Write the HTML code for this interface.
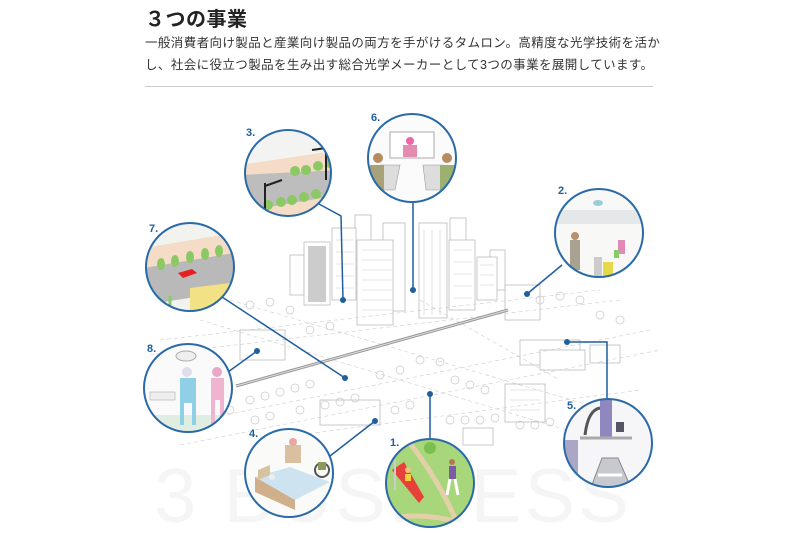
<!DOCTYPE html>
<html><head><meta charset="utf-8"><style>
html,body{margin:0;padding:0;background:#fff;width:800px;height:533px;overflow:hidden;font-family:"Liberation Sans","Noto Sans CJK JP",sans-serif;}
h1{position:absolute;left:145px;top:3px;margin:0;font-size:20px;font-weight:bold;color:#222;letter-spacing:0.5px;}
p{position:absolute;left:145px;top:32px;margin:0;width:560px;font-size:12.5px;line-height:22px;color:#333;letter-spacing:0.4px;white-space:nowrap;}
hr{position:absolute;left:145px;top:86px;width:508px;margin:0;border:0;border-top:1px solid #ccc;}
svg{position:absolute;left:0;top:0;}
</style></head><body>
<h1>３つの事業</h1>
<p>一般消費者向け製品と産業向け製品の両方を手がけるタムロン。高精度な光学技術を活か<br>し、社会に役立つ製品を生み出す総合光学メーカーとして3つの事業を展開しています。</p>
<hr>
<svg width="800" height="533" viewBox="0 0 800 533">
<text x="393" y="522" text-anchor="middle" font-family="Liberation Sans,sans-serif" font-size="76" fill="#f5f5f5" letter-spacing="3">3 BUSINESS</text>
<g stroke="#bbb" stroke-width="0.8" fill="#fff">
 <rect x="290" y="255" width="14" height="40"/><rect x="355" y="215" width="16" height="30"/><rect x="385" y="245" width="16" height="25"/><rect x="450" y="218" width="16" height="25"/><rect x="490" y="250" width="15" height="40"/>
 <rect x="304" y="242" width="26" height="63"/><rect x="308" y="246" width="18" height="56" fill="#ccc" stroke="none"/>
 <rect x="332" y="228" width="24" height="72"/>
 <rect x="383" y="223" width="22" height="88"/>
 <rect x="357" y="240" width="36" height="85"/>
 <rect x="419" y="223" width="28" height="95"/>
 <rect x="449" y="240" width="26" height="70"/>
 <rect x="477" y="257" width="20" height="43"/>
 <rect x="505" y="285" width="35" height="35"/>
 <rect x="240" y="330" width="45" height="30"/>
 <rect x="505" y="384" width="40" height="38"/>
 <rect x="463" y="428" width="30" height="17"/>
 <rect x="520" y="340" width="60" height="25"/>
 <rect x="320" y="400" width="60" height="25"/>
 <rect x="540" y="350" width="45" height="20"/>
 <rect x="590" y="345" width="30" height="18"/>
</g>
<g stroke="#ccc" stroke-width="0.6" fill="none">
 <path d="M362 250h30M362 260h30M362 270h30M362 280h30M362 290h30M362 300h30M362 310h30M424 230v85M432 230v85M440 230v85M454 250h18M454 262h18M454 274h18M454 286h18M454 298h18M336 240h18M336 252h18M336 264h18M336 276h18M336 288h18M480 265h14M480 275h14M480 285h14M510 390h30M510 400h30M510 410h30"/>
 <path d="M160 340L600 290M150 355L620 300M200 420L650 330M180 445L660 350M230 300L640 420M200 320L600 440M260 440L640 390M420 300L560 380" stroke-dasharray="4 3"/>
</g>
<path d="M236 386L508 310" stroke="#999" stroke-width="3" fill="none"/>
<path d="M236 386L508 310" stroke="#ddd" stroke-width="1" fill="none"/>
<g fill="none" stroke="#c8c8c8" stroke-width="0.7">
 <circle cx="250" cy="400" r="4"/><circle cx="265" cy="396" r="4"/><circle cx="280" cy="392" r="4"/><circle cx="295" cy="388" r="4"/><circle cx="310" cy="384" r="4"/><circle cx="255" cy="420" r="4"/><circle cx="270" cy="416" r="4"/><circle cx="300" cy="410" r="4"/><circle cx="450" cy="420" r="4"/><circle cx="465" cy="420" r="4"/><circle cx="480" cy="420" r="4"/><circle cx="495" cy="418" r="4"/><circle cx="420" cy="360" r="4"/><circle cx="440" cy="362" r="4"/><circle cx="400" cy="370" r="4"/><circle cx="380" cy="375" r="4"/><circle cx="250" cy="305" r="4"/><circle cx="270" cy="302" r="4"/><circle cx="290" cy="310" r="4"/><circle cx="540" cy="300" r="4"/><circle cx="560" cy="296" r="4"/><circle cx="580" cy="300" r="4"/>
 <circle cx="325" cy="405" r="4"/><circle cx="340" cy="402" r="4"/><circle cx="355" cy="398" r="4"/><circle cx="395" cy="410" r="4"/><circle cx="410" cy="405" r="4"/><circle cx="455" cy="380" r="4"/><circle cx="470" cy="385" r="4"/><circle cx="485" cy="390" r="4"/><circle cx="520" cy="425" r="4"/><circle cx="535" cy="425" r="4"/><circle cx="550" cy="422" r="4"/><circle cx="600" cy="315" r="4"/><circle cx="620" cy="320" r="4"/><circle cx="230" cy="410" r="4"/><circle cx="310" cy="330" r="4"/><circle cx="330" cy="326" r="4"/>
</g>
<g stroke="#1f5fa0" stroke-width="1.5" fill="none">
 <path d="M319 204L341 216L343 300"/>
 <path d="M413 203V290"/>
 <path d="M562 265L527 294"/>
 <path d="M222 297L345 378"/>
 <path d="M228 372L257 351"/>
 <path d="M330 456L375 421"/>
 <path d="M430 438V394"/>
 <path d="M567 342H607V398"/>
</g>
<g fill="#1f5fa0">
 <circle cx="343" cy="300" r="3"/><circle cx="413" cy="290" r="3"/><circle cx="527" cy="294" r="3"/><circle cx="345" cy="378" r="3"/><circle cx="257" cy="351" r="3"/><circle cx="375" cy="421" r="3"/><circle cx="430" cy="394" r="3"/><circle cx="567" cy="342" r="3"/>
</g>
<defs>
 <clipPath id="c3"><circle cx="288" cy="173" r="43"/></clipPath>
 <clipPath id="c6"><circle cx="412" cy="158" r="44"/></clipPath>
 <clipPath id="c2"><circle cx="599" cy="233" r="44"/></clipPath>
 <clipPath id="c7"><circle cx="190" cy="267" r="44"/></clipPath>
 <clipPath id="c8"><circle cx="188" cy="388" r="44"/></clipPath>
 <clipPath id="c4"><circle cx="289" cy="473" r="44"/></clipPath>
 <clipPath id="c1"><circle cx="430" cy="483" r="44"/></clipPath>
 <clipPath id="c5"><circle cx="608" cy="443" r="44"/></clipPath>
</defs>
<g clip-path="url(#c3)">
 <rect x="240" y="125" width="100" height="100" fill="#f3f3f1"/>
 <path d="M240 165L340 150V180L240 205Z" fill="#f5dcc6"/>
 <path d="M240 175L340 170V200L240 220Z" fill="#bdbdbd"/>
 <path d="M240 212L340 195V230H240Z" fill="#f5dcc6"/>
 <g fill="#8cc863"><circle cx="295" cy="171" r="5"/><circle cx="306" cy="170" r="5"/><circle cx="318" cy="166" r="5"/><circle cx="330" cy="163" r="5"/><circle cx="268" cy="205" r="5"/><circle cx="281" cy="202" r="5"/><circle cx="292" cy="200" r="5"/><circle cx="304" cy="197" r="5"/><circle cx="316" cy="194" r="5"/></g>
 <path d="M265 183V210M326 152V180M265 186L282 180M312 150L326 148" stroke="#222" stroke-width="2"/>
</g>
<g clip-path="url(#c6)">
 <rect x="368" y="114" width="90" height="90" fill="#fbfbfb"/>
 <rect x="390" y="132" width="44" height="26" fill="#fff" stroke="#aaa"/>
 <circle cx="410" cy="141" r="4" fill="#e6a"/><rect x="403" y="145" width="14" height="12" fill="#e48bb0"/>
 <path d="M380 165h20l-5 25h-25ZM423 165h20l8 25h-25Z" fill="#ddd" stroke="#999" stroke-width=".6"/>
 <circle cx="378" cy="158" r="5" fill="#b88a60"/><rect x="370" y="165" width="14" height="25" fill="#a8a27a"/>
 <circle cx="447" cy="158" r="5" fill="#b88a60"/><rect x="440" y="165" width="15" height="25" fill="#9eb070"/>
</g>
<g clip-path="url(#c2)">
 <rect x="555" y="189" width="90" height="90" fill="#f8f8f6"/>
 <rect x="555" y="210" width="90" height="14" fill="#e4e8e8"/>
 <ellipse cx="598" cy="203" rx="5" ry="3" fill="#9cd"/>
 <rect x="570" y="240" width="10" height="30" fill="#a9a292"/><circle cx="575" cy="236" r="4" fill="#b89070"/>
 <rect x="594" y="257" width="8" height="20" fill="#ccc"/>
 <rect x="603" y="262" width="10" height="16" fill="#e5d84a"/>
 <rect x="618" y="240" width="7" height="14" fill="#e389b8"/><rect x="614" y="250" width="5" height="8" fill="#8c6"/>
</g>
<g clip-path="url(#c7)">
 <rect x="144" y="220" width="95" height="95" fill="#f2f2ef"/>
 <path d="M144 248L240 232V262L144 280Z" fill="#f5dcc6"/>
 <path d="M144 268L240 252V290L144 305Z" fill="#b9b9b9"/>
 <g fill="#8cc863"><ellipse cx="161" cy="264" rx="4" ry="6"/><ellipse cx="175" cy="261" rx="4" ry="6"/><ellipse cx="190" cy="257" rx="4" ry="6"/><ellipse cx="205" cy="254" rx="4" ry="6"/><ellipse cx="219" cy="251" rx="4" ry="6"/></g>
 <path d="M178 273l14-4 5 4-14 5z" fill="#e52020"/>
 <path d="M190 288L230 283V315H190Z" fill="#f2e285"/>
 <path d="M150 300V312M160 298V312M170 296V312" stroke="#8c6" stroke-width="3"/>
</g>
<g clip-path="url(#c8)">
 <rect x="142" y="343" width="92" height="92" fill="#fafafa"/>
 <rect x="142" y="415" width="92" height="20" fill="#dfeee0"/>
 <ellipse cx="186" cy="356" rx="10" ry="5" fill="#eee" stroke="#aaa"/>
 <circle cx="187" cy="372" r="5" fill="#dde"/><rect x="180" y="378" width="16" height="25" fill="#8fd0e6"/><path d="M182 403v22M194 403v22" stroke="#8fd0e6" stroke-width="4"/>
 <circle cx="217" cy="372" r="5" fill="#e9a8c8"/><rect x="211" y="378" width="13" height="22" fill="#eeb4d0"/><path d="M213 400v25M222 400v25" stroke="#eeb4d0" stroke-width="4"/>
 <rect x="150" y="392" width="25" height="8" fill="#eee" stroke="#aaa" stroke-width=".6"/>
</g>
<g clip-path="url(#c4)">
 <rect x="243" y="427" width="92" height="92" fill="#fafaf8"/>
 <rect x="285" y="445" width="16" height="18" fill="#d9c0a0"/>
 <ellipse cx="293" cy="442" rx="4" ry="4" fill="#e7a8a0"/>
 <path d="M255 477l35-10 40 15-35 18z" fill="#cde4f0"/>
 <path d="M255 477v15l40 18v-10z" fill="#cfb08a"/>
 <path d="M258 470l12-5v10l-12 5z" fill="#d9c29e"/>
 <circle cx="272" cy="477" r="3" fill="#eee"/>
 <circle cx="322" cy="470" r="7" fill="none" stroke="#555" stroke-width="2"/><rect x="318" y="462" width="8" height="8" fill="#8b9a5a"/>
</g>
<g clip-path="url(#c1)">
 <rect x="384" y="437" width="92" height="92" fill="#a8d67a"/>
 <path d="M405 437Q440 480 460 530" stroke="#e4d0a8" stroke-width="5" fill="none"/>
 <path d="M384 520Q420 510 470 525" stroke="#e4d0a8" stroke-width="5" fill="none"/>
 <circle cx="430" cy="448" r="6" fill="#7bc04f"/>
 <path d="M392 470l12-8 20 35-5 6z" fill="#e8413a"/>
 <path d="M395 460v30" stroke="#ccc" stroke-width="2"/>
 <circle cx="408" cy="470" r="3" fill="#f0c080"/><rect x="405" y="474" width="6" height="7" fill="#f2d23c"/>
 <circle cx="452" cy="462" r="3" fill="#b07a50"/><rect x="449" y="466" width="7" height="13" fill="#7b5aa6"/><path d="M450 479l-3 16M455 479l3 16" stroke="#fff" stroke-width="3"/>
</g>
<g clip-path="url(#c5)">
 <rect x="562" y="397" width="92" height="92" fill="#f6f6f8"/>
 <rect x="562" y="440" width="16" height="50" fill="#a9a6c6"/>
 <rect x="600" y="400" width="12" height="38" fill="#8f88c0"/>
 <path d="M580 438L632 438" stroke="#aaa" stroke-width="3"/>
 <path d="M585 435Q588 410 600 408" stroke="#555" stroke-width="3" fill="none"/>
 <rect x="616" y="422" width="8" height="10" fill="#556"/>
 <path d="M590 490L602 458H618L632 490Z" fill="#c8c8d0" stroke="#888"/>
 <path d="M598 475h24" stroke="#fff" stroke-width="3"/>
</g>
<g fill="none" stroke="#2a6aa8" stroke-width="2">
 <circle cx="288" cy="173" r="43"/><circle cx="412" cy="158" r="44"/><circle cx="599" cy="233" r="44"/><circle cx="190" cy="267" r="44"/><circle cx="188" cy="388" r="44"/><circle cx="289" cy="473" r="44"/><circle cx="430" cy="483" r="44"/><circle cx="608" cy="443" r="44"/>
</g>
<g fill="#1f5fa0" font-family="Liberation Sans,sans-serif" font-size="11" font-weight="bold">
 <text x="246" y="136">3.</text><text x="371" y="121">6.</text><text x="558" y="194">2.</text><text x="149" y="232">7.</text><text x="147" y="352">8.</text><text x="249" y="437">4.</text><text x="390" y="446">1.</text><text x="567" y="409">5.</text>
</g>
</svg>
</body></html>
